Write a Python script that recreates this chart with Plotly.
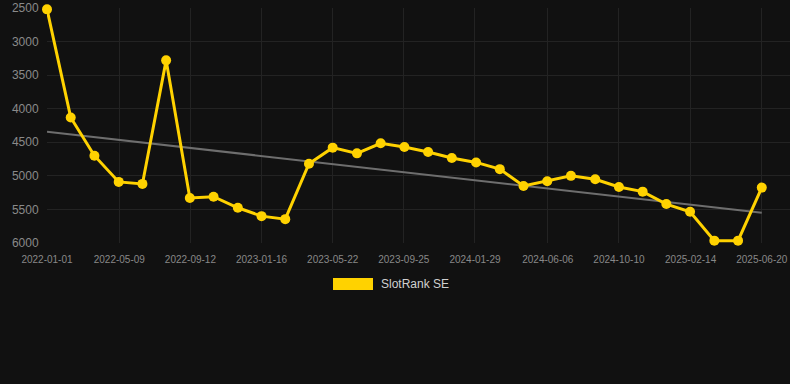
import plotly.graph_objects as go

# ---- data ----
dates = [
    "2022-01-01", "2022-02-12", "2022-03-26", "2022-05-08", "2022-06-19",
    "2022-07-31", "2022-09-11", "2022-10-23", "2022-12-05", "2023-01-16",
    "2023-02-27", "2023-04-10", "2023-05-22", "2023-07-04", "2023-08-15",
    "2023-09-26", "2023-11-07", "2023-12-19", "2024-01-31", "2024-03-13",
    "2024-04-24", "2024-06-05", "2024-07-17", "2024-08-29", "2024-10-10",
    "2024-11-21", "2025-01-02", "2025-02-13", "2025-03-28", "2025-05-09",
    "2025-06-20",
]
rank = [
    2520, 4130, 4700, 5090, 5120,
    3280, 5330, 5310, 5475, 5600,
    5645, 4820, 4580, 4665, 4515,
    4570, 4645, 4735, 4800, 4900,
    5150, 5080, 5000, 5050, 5165,
    5235, 5420, 5535, 5965, 5965,
    5175,
]
trend_dates = ["2022-01-01", "2025-06-20"]
trend_vals = [4342, 5549]

tick_dates = [
    "2022-01-01", "2022-05-09", "2022-09-12", "2023-01-16", "2023-05-22",
    "2023-09-25", "2024-01-29", "2024-06-06", "2024-10-10", "2025-02-14",
    "2025-06-20",
]
y_ticks = [2500, 3000, 3500, 4000, 4500, 5000, 5500, 6000]
series_name = "SlotRank SE"

YELLOW = "#FFD200"
BG = "#111111"
GRID = "#232323"
FONT = "Arial, Liberation Sans, sans-serif"

fig = go.Figure()
fig.add_trace(go.Scatter(
    x=trend_dates, y=trend_vals, mode="lines",
    line=dict(color="#6e6e6e", width=2), hoverinfo="skip", showlegend=False,
))
fig.add_trace(go.Scatter(
    x=dates, y=rank, mode="lines+markers", name=series_name,
    line=dict(color=YELLOW, width=3),
    marker=dict(color=YELLOW, size=10),
    showlegend=False, cliponaxis=False,
))

# custom legend (rectangle + text)
W, L = 790, 47
PT, PB = 8, 243
def px_x(p):
    return (p - L) / (W - L)
def px_y(p):
    return (PB - p) / (PB - PT)

fig.add_shape(type="rect", xref="paper", yref="paper",
              x0=px_x(333), x1=px_x(373), y0=px_y(290), y1=px_y(278),
              fillcolor=YELLOW, line=dict(width=0))
fig.add_annotation(xref="paper", yref="paper", x=px_x(379), y=px_y(284),
                   text=series_name, showarrow=False, xanchor="left",
                   yanchor="middle", font=dict(family=FONT, size=12, color="#d0d0d0"))

fig.update_layout(
    width=790, height=384,
    margin=dict(l=L, r=0, t=PT, b=384 - PB),
    paper_bgcolor=BG, plot_bgcolor=BG,
    font=dict(family=FONT, color="#888888"),
    showlegend=False,
    xaxis=dict(
        type="date",
        range=["2022-01-01", "2025-08-09"],
        tickvals=tick_dates, ticktext=tick_dates,
        tickfont=dict(size=10, color="#888888"),
        showgrid=True, gridcolor=GRID, gridwidth=1,
        zeroline=False, showline=False,
        ticks="outside", ticklen=7, tickcolor="rgba(0,0,0,0)",
    ),
    yaxis=dict(
        range=[6000, 2500],
        tickvals=y_ticks,
        tickfont=dict(size=12, color="#8a8a8a"),
        showgrid=True, gridcolor=GRID, gridwidth=1,
        zeroline=False, showline=False,
        ticks="outside", ticklen=5, tickcolor="rgba(0,0,0,0)",
    ),
)

fig.write_html(
    "out.html",
    config={"displayModeBar": False},
    post_script="document.body.style.margin='0';document.body.style.background='#111111';",
)
